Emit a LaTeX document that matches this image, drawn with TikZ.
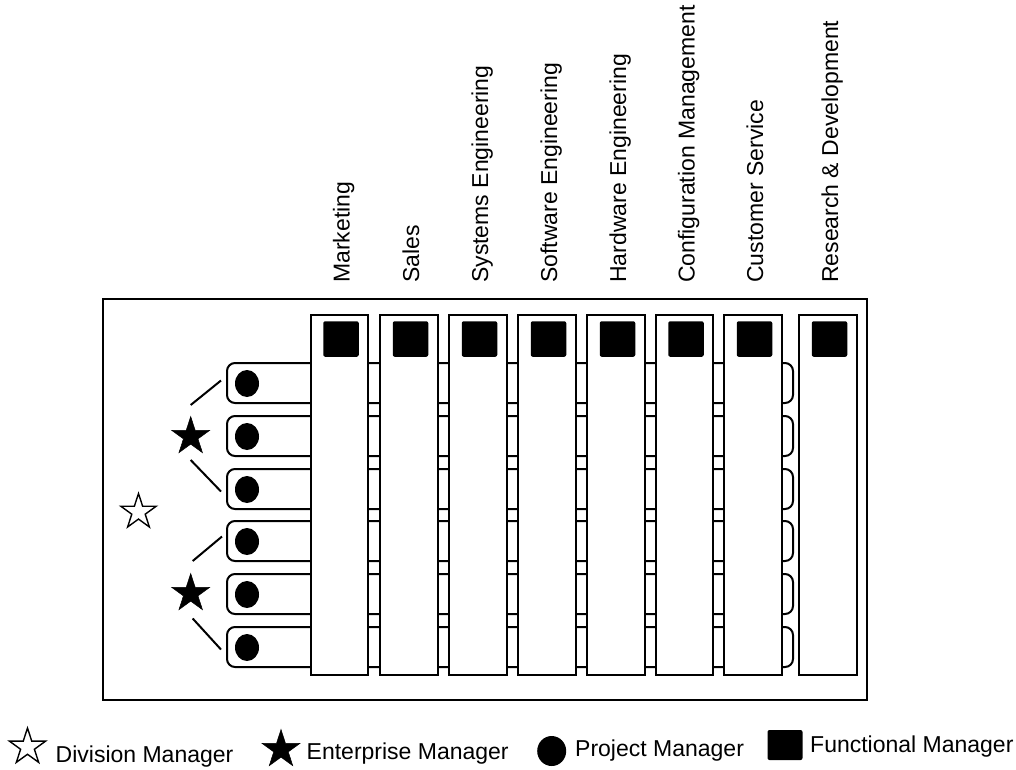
\documentclass[tikz,border=0pt]{standalone}
\usepackage{fontspec}
\setmainfont{Liberation Sans}
\usetikzlibrary{shapes.geometric,calc}
\begin{document}
\begin{tikzpicture}[x=1pt,y=-1pt,
  frame/.style={draw,line width=2.2pt,minimum width=764pt,minimum height=401pt,inner sep=0},
  projbar/.style={draw,line width=2pt,rounded corners=8pt,minimum width=566pt,minimum height=40pt,inner sep=0},
  column/.style={draw,fill=white,line width=2pt,minimum width=57.5pt,minimum height=360pt,inner sep=0},
  funcmgr/.style={fill=black,rounded corners=2pt,minimum size=35.5pt,inner sep=0},
  projmgr/.style={ellipse,fill=black,minimum width=24pt,minimum height=27pt,inner sep=0},
  entmgr/.style={star,star points=5,star point ratio=2.618,fill=black,draw,line width=0.5pt,minimum size=40pt,inner sep=0},
  divmgr/.style={star,star points=5,star point ratio=2.618,draw,line width=1.4pt,minimum size=37pt,inner sep=0},
  link/.style={line width=2pt},
  lbl/.style={font=\fontsize{23}{27}\selectfont,inner sep=0},
  collbl/.style={lbl,rotate=90,anchor=base west}
]
\useasboundingbox (0,0) rectangle (1016,769);

% enclosing division box
\node[frame] (division) at (485,499.5) {};

% project bars (drawn first, the functional columns sit on top)
\foreach \i/\y in {1/383,2/436,3/489,4/541,5/594,6/647}{
  \node[projbar] (p\i) at (510,\y) {};
  \node[projmgr] (pm\i) at ($(p\i.west)+(21,0.5)$) {};
}

% functional columns with their managers and titles
\foreach \i/\x/\name in {1/339.5/Marketing,2/409/Sales,3/478/Systems Engineering,
  4/547/Software Engineering,5/616/Hardware Engineering,6/684.5/Configuration Management,
  7/753/Customer Service,8/828/Research \& Development}{
  \node[column] (c\i) at (\x,495) {};
  \node[funcmgr] (fm\i) at ($(c\i.north)+(1.5,25)$) {};
  \node[collbl] (t\i) at ($(c\i.north)+(10,-31)$) {\name};
}

% enterprise managers and division manager
\node[entmgr] (e1) at (190.7,436.5) {};
\node[entmgr] (e2) at (190.7,593.5) {};
\node[divmgr] (dm) at (138.5,512) {};

% links from enterprise managers to their projects
\coordinate (e1a) at ($(e1)+(0,-31.5)$);
\coordinate (e1b) at ($(e1)+(0,23.5)$);
\coordinate (e2a) at ($(e2)+(2,-32.5)$);
\coordinate (e2b) at ($(e2)+(2,25)$);
\coordinate (p1e) at ($(p1.west)+(-5,-2.5)$);
\coordinate (p3e) at ($(p3.west)+(-5,2.5)$);
\coordinate (p4e) at ($(p4.west)+(-4,-4.5)$);
\coordinate (p6e) at ($(p6.west)+(-5,2.5)$);
\draw[link] (e1a) -- (p1e);
\draw[link] (e1b) -- (p3e);
\draw[link] (e2a) -- (p4e);
\draw[link] (e2b) -- (p6e);

% legend
\node[divmgr,minimum size=38pt] (lg1) at (27.5,747) {};
\node[lbl,anchor=base west] (lt1) at (55.5,762) {Division Manager};
\node[entmgr] (lg2) at (281,749.5) {};
\node[lbl,anchor=base west] (lt2) at (306.5,759.5) {Enterprise Manager};
\node[ellipse,fill=black,minimum width=29pt,minimum height=30pt,inner sep=0] (lg3) at (551.7,751) {};
\node[lbl,anchor=base west] (lt3) at (575,756) {Project Manager};
\node[fill=black,rounded corners=2pt,minimum width=35pt,minimum height=30pt,inner sep=0] (lg4) at (785,745) {};
\node[lbl,anchor=base west] (lt4) at (810,752) {Functional Manager};
\end{tikzpicture}
\end{document}
